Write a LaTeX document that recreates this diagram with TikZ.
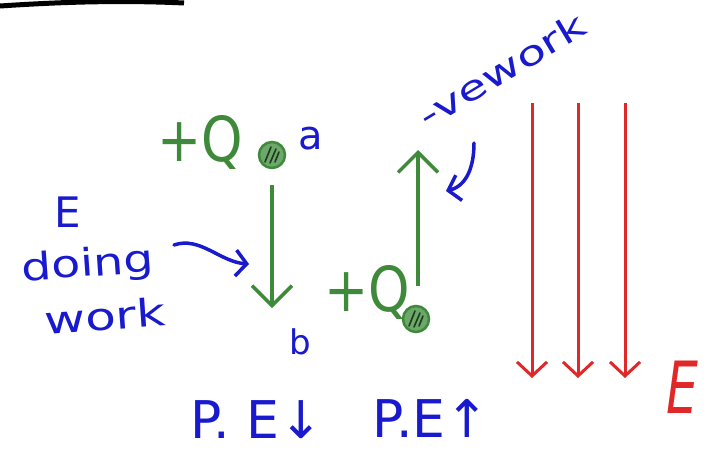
\documentclass[tikz,border=0pt]{standalone}
\usepackage{fontspec}
\setmainfont{DejaVu Sans}
\usetikzlibrary{arrows.meta}
\definecolor{pgreen}{RGB}{62,138,58}
\definecolor{pblue}{RGB}{25,25,205}
\definecolor{pred}{RGB}{225,40,40}
\tikzset{
  hand/.style={inner sep=0pt, outer sep=0pt},
  gtext/.style={hand, text=pgreen},
  btext/.style={hand, text=pblue},
  charge/.style={circle, draw=pgreen, line width=2.5pt, fill=pgreen!75!white, minimum size=26pt, inner sep=0pt},
  hatch/.style={draw=pgreen!45!black, line width=1.6pt, line cap=round},
  garrow/.style={draw=pgreen, line width=3.5pt, -{Straight Barb[length=20pt,width=40pt]}},
  rarrow/.style={draw=pred, line width=3pt, -{Straight Barb[length=14pt,width=30pt]}},
  barrow/.style={draw=pblue, line width=3.5pt, line cap=round, -{Straight Barb[length=11pt,width=26pt]}},
}
\begin{document}
\begin{tikzpicture}[x=1pt,y=-1pt]
\useasboundingbox (0,0) rectangle (704,458);
\fill[white] (0,0) rectangle (704,458);
% top line
\draw[black, line width=5pt] (0,6) .. controls (60,2) and (120,0) .. (184,3);

% left charge a
\node[gtext] (q1) at (200,142) {\fontsize{62}{62}\selectfont\scalebox{0.85}[1]{+Q}};
\node[charge] (ca) at (272,155) {};
\draw[hatch] (265,162) -- (271,147) (270,163) -- (276,149) (275,162) -- (279,152);
\node[btext] (la) at (311,139) {\fontsize{40}{40}\selectfont a};
\coordinate (tb) at (272,308);
\draw[garrow] (ca.south) ++(0,16) -- (tb);
\node[btext] (lb) at (300,342) {\fontsize{34}{34}\selectfont b};

% E doing work
\node[btext] (E1) at (68,212) {\fontsize{42}{42}\selectfont E};
\node[btext, rotate=4] (doing) at (88,266) {\fontsize{38}{38}\selectfont\scalebox{1.25}[1]{doing}};
\node[btext, rotate=4] (work) at (105,316) {\fontsize{38}{38}\selectfont\scalebox{1.32}[1]{work}};
\coordinate (e1s) at (174,245);
\coordinate (e1e) at (249,264);
\draw[barrow] (e1s) .. controls (200,236) and (220,262) .. (e1e);

% right charge
\node[gtext] (q2) at (367,292) {\fontsize{62}{62}\selectfont\scalebox{0.85}[1]{+Q}};
\node[charge] (cb) at (416,319) {};
\draw[hatch] (409,326) -- (415,311) (414,327) -- (420,313) (419,326) -- (423,316);
\coordinate (g2s) at (418,286);
\coordinate (g2e) at (418,150);
\draw[garrow] (g2s) -- (g2e);

% -ve work
\node[btext, rotate=31] (neg) at (502,70) {\fontsize{34}{34}\selectfont\scalebox{1.4}[1]{-vework}};
\coordinate (e2s) at (474,143);
\coordinate (e2e) at (446,191);
\draw[barrow] (e2s) .. controls (474,168) and (466,186) .. (e2e);

% field lines
\foreach \x/\n in {532/1,578/2,625/3}{
  \coordinate (rt\n) at (\x,103);
  \coordinate (rb\n) at (\x,378);
  \draw[rarrow] (rt\n) -- (rb\n);
}
\node[hand, text=pred] (E2) at (682,387) {\fontsize{72}{72}\selectfont\itshape\scalebox{0.7}[1]{E}};

% PE labels
\node[btext] (pe1) at (257,420) {\fontsize{52}{52}\selectfont P. E↓};
\node[btext] (pe2) at (431,418) {\fontsize{52}{52}\selectfont P.E↑};
\end{tikzpicture}
\end{document}
